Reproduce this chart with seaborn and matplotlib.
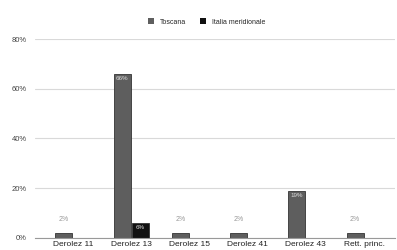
import matplotlib
matplotlib.use("Agg")
import matplotlib.pyplot as plt
import seaborn as sns
import pandas as pd

categories = ["Derolez 11", "Derolez 13", "Derolez 15", "Derolez 41", "Derolez 43", "Rett. princ."]
toscana = [2, 66, 2, 2, 19, 2]
italia_merid = [0, 6, 0, 0, 0, 0]
series_names = ["Toscana", "Italia meridionale"]
y_ticks = [0, 20, 40, 60, 80]

df = pd.DataFrame({
    "cat": categories * 2,
    "val": toscana + italia_merid,
    "serie": [series_names[0]] * len(categories) + [series_names[1]] * len(categories),
})

sns.set_theme(style="white")
plt.rcParams["font.family"] = ["Liberation Sans", "DejaVu Sans"]

fig = plt.figure(figsize=(3.97, 2.5), dpi=100)
ax = fig.add_axes([0.088, 0.049, 0.907, 0.794])
palette = {series_names[0]: "#5e5e5e", series_names[1]: "#111111"}
sns.barplot(data=df, x="cat", y="val", hue="serie", palette=palette, ax=ax,
            width=0.62, gap=0.06, saturation=1, legend=False,
            edgecolor="#333333", linewidth=0.6)

ax.set_xlim(-0.65, 5.53)
ax.set_ylim(0, 80)
ax.set_yticks(y_ticks)
ax.set_yticklabels([f"{t}%" for t in y_ticks], fontsize=5.5, color="#444444")
ax.tick_params(axis="x", labelsize=6, colors="#222222", length=0, pad=2)
ax.tick_params(axis="y", length=0, pad=6)
ax.set_xlabel("")
ax.set_ylabel("")
ax.yaxis.grid(True, color="#d9d9d9", linewidth=0.8)
ax.set_axisbelow(True)
for s in ["top", "right", "left"]:
    ax.spines[s].set_visible(False)
ax.spines["bottom"].set_color("#999999")
ax.spines["bottom"].set_linewidth(0.8)

# value labels
for cont, vals in zip(ax.containers, [toscana, italia_merid]):
    for bar, v in zip(cont, vals):
        if v <= 0:
            continue
        x = bar.get_x() + bar.get_width() / 2
        if v >= 5:
            ax.text(x, v - 1, f"{v}%", ha="center", va="top", fontsize=4.5, color="#dddddd")
        else:
            ax.text(x, v + 4, f"{v}%", ha="center", va="bottom", fontsize=5, color="#999999")

# legend
from matplotlib.patches import Patch
handles = [Patch(facecolor=palette[n], edgecolor="none") for n in series_names]
fig.legend(handles, series_names, loc="center", bbox_to_anchor=(0.52, 0.912), ncol=2,
           frameon=False, fontsize=5, handlelength=0.9, handleheight=0.9,
           handletextpad=0.8, columnspacing=2.0)

fig.savefig("out.png", dpi=100)
